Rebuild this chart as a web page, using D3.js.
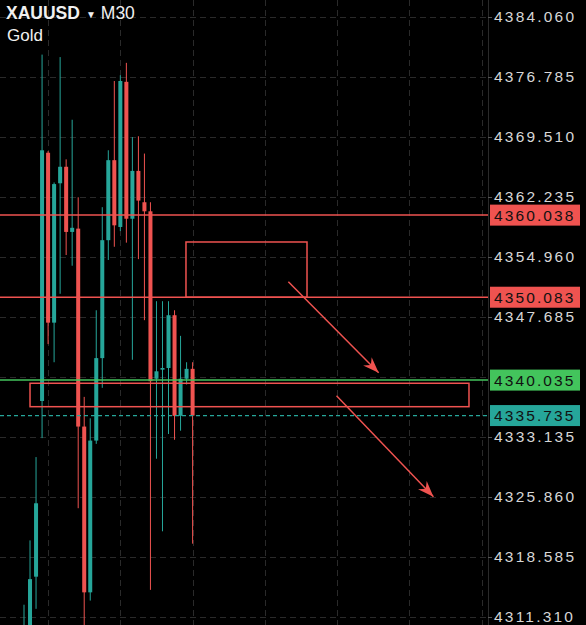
<!DOCTYPE html>
<html>
<head>
<meta charset="utf-8">
<script src="https://cdnjs.cloudflare.com/ajax/libs/d3/7.8.5/d3.min.js"></script>
<style>
  html, body { margin: 0; padding: 0; background: #000; }
  svg { display: block; }
</style>
</head>
<body>
<div id="chart"></div>
<script>
(function(){

    // XAUUSD M30 candles, oldest first
    var opens  = [4303.0, 4306.0, 4316.2, 4337.5, 4367.6, 4347.0, 4363.9, 4365.9, 4358.0, 4358.4,
                  4334.4, 4314.3, 4332.7, 4342.7, 4357.0, 4366.7, 4358.6, 4376.2, 4359.6, 4365.4,
                  4361.6, 4360.5, 4340.2, 4341.3, 4341.5, 4347.9, 4335.7, 4340.2, 4341.4];
    var highs  = [4312.8, 4320.6, 4330.7, 4379.5, 4367.8, 4364.0, 4379.2, 4366.8, 4371.6, 4362.2,
                  4338.0, 4335.4, 4348.5, 4361.0, 4367.9, 4376.3, 4377.0, 4378.5, 4369.5, 4369.6,
                  4367.5, 4361.6, 4349.6, 4349.6, 4349.6, 4348.5, 4345.4, 4342.2, 4342.2];
    var lows   = [4300.0, 4303.0, 4312.3, 4333.0, 4344.4, 4342.2, 4350.5, 4355.2, 4353.9, 4324.5,
                  4308.0, 4313.3, 4332.3, 4339.1, 4354.6, 4356.2, 4358.1, 4356.7, 4342.5, 4354.7,
                  4347.3, 4314.6, 4330.5, 4321.7, 4333.5, 4332.8, 4333.9, 4339.5, 4320.2];
    var closes = [4308.0, 4315.9, 4325.1, 4367.9, 4347.0, 4363.8, 4365.9, 4358.0, 4358.5, 4334.4,
                  4314.3, 4332.7, 4342.7, 4357.0, 4366.7, 4358.8, 4376.3, 4359.6, 4365.4, 4361.8,
                  4360.5, 4339.9, 4341.1, 4341.5, 4347.9, 4335.7, 4340.2, 4341.4, 4335.74];

    // price grid, and the tick labels that stay visible (4340.410 sits under the ask tag)
    var gridValues = [4384.060, 4376.785, 4369.510, 4362.235, 4354.960, 4347.685,
                      4340.410, 4333.135, 4325.860, 4318.585, 4311.310];
    var tickValues = [4384.060, 4376.785, 4369.510, 4362.235, 4354.960, 4347.685,
                      4333.135, 4325.860, 4318.585, 4311.310];
    // bars where the vertical grid falls (every 12 bars)
    var gridBars = [4, 16, 28, 40, 52, 64, 76];

    // horizontal price lines
    var levelPrices = [4360.038, 4350.083, 4340.035, 4335.735];
    var levelKinds  = ["resist", "resist", "ask", "bid"];

    // drawn zones (bar index / price)
    var zoneX0 = [26.9, 1.0];
    var zoneX1 = [47.0, 73.9];
    var zoneTop = [4356.78, 4339.65];
    var zoneBottom = [4350.083, 4336.81];

    // drawn arrows
    var arrowX0 = [43.9, 51.9];
    var arrowP0 = [4351.97, 4338.14];
    var arrowX1 = [58.9, 68.0];
    var arrowP1 = [4340.93, 4325.90];

    var width = 586, height = 625;
    var plotRight = 488;
    var up = "#26a69a", down = "#ef5350", green = "#43c45c";
    var kindColor = {resist: down, ask: green, bid: up};
    var labelFont = "Liberation Sans, Arial, sans-serif";

    var svg = d3.select("#chart").append("svg")
        .attr("width", width)
        .attr("height", height);

    svg.append("rect").attr("width", width).attr("height", height).attr("fill", "#000");

    var x = d3.scaleLinear().domain([0, 28]).range([24, 192.6]);
    var y = d3.scaleLinear().domain([4311.31, 4384.06]).range([617, 17]);

    svg.append("clipPath").attr("id", "plot")
        .append("rect").attr("width", plotRight).attr("height", height);

    var plot = svg.append("g").attr("clip-path", "url(#plot)");

    //grid
    plot.append("g")
        .call(d3.axisRight(y).tickValues(gridValues).tickSize(plotRight).tickFormat(""))
        .call(function(g){
            g.select(".domain").remove();
            g.selectAll("line").attr("stroke", "#2a2a2a").attr("stroke-dasharray", "6,4");
        });

    plot.append("g")
        .selectAll("line")
        .data(gridBars).enter().append("line")
        .attr("x1", function(d){ return Math.round(x(d)) + 0.5; })
        .attr("x2", function(d){ return Math.round(x(d)) + 0.5; })
        .attr("y1", 0).attr("y2", height)
        .attr("stroke", "#2a2a2a")
        .attr("stroke-dasharray", "6,4");

    //candles
    var idx = d3.range(opens.length);
    var candles = plot.append("g").selectAll("g")
        .data(idx).enter().append("g")
        .attr("fill", function(i){ return closes[i] >= opens[i] ? up : down; })
        .attr("stroke", function(i){ return closes[i] >= opens[i] ? up : down; });

    candles.append("line")
        .attr("x1", function(i){ return x(i); })
        .attr("x2", function(i){ return x(i); })
        .attr("y1", function(i){ return y(highs[i]); })
        .attr("y2", function(i){ return y(lows[i]); })
        .attr("stroke-width", 1);

    candles.append("rect")
        .attr("x", function(i){ return x(i) - 2; })
        .attr("width", 4)
        .attr("y", function(i){ return y(Math.max(opens[i], closes[i])); })
        .attr("height", function(i){ return Math.max(1.5, Math.abs(y(opens[i]) - y(closes[i]))); })
        .attr("stroke", "none");

    //price lines
    plot.append("g").selectAll("line")
        .data(d3.range(levelPrices.length)).enter().append("line")
        .attr("x1", 0).attr("x2", plotRight)
        .attr("y1", function(i){ return y(levelPrices[i]); })
        .attr("y2", function(i){ return y(levelPrices[i]); })
        .attr("stroke", function(i){ return kindColor[levelKinds[i]]; })
        .attr("stroke-width", function(i){ return levelKinds[i] === "bid" ? 1.2 : 1.5; })
        .attr("stroke-dasharray", function(i){ return levelKinds[i] === "bid" ? "4,3" : null; });

    //zones
    plot.append("g").selectAll("rect")
        .data(d3.range(zoneX0.length)).enter().append("rect")
        .attr("x", function(i){ return x(zoneX0[i]); })
        .attr("width", function(i){ return x(zoneX1[i]) - x(zoneX0[i]); })
        .attr("y", function(i){ return y(zoneTop[i]); })
        .attr("height", function(i){ return y(zoneBottom[i]) - y(zoneTop[i]); })
        .attr("fill", "none")
        .attr("stroke", down)
        .attr("stroke-width", 1.5);

    //arrows
    var arrows = plot.append("g").selectAll("g")
        .data(d3.range(arrowX0.length)).enter().append("g");

    arrows.append("line")
        .attr("x1", function(i){ return x(arrowX0[i]); })
        .attr("y1", function(i){ return y(arrowP0[i]); })
        .attr("x2", function(i){ return x(arrowX1[i]); })
        .attr("y2", function(i){ return y(arrowP1[i]); })
        .attr("stroke", down)
        .attr("stroke-width", 1.5);

    arrows.append("path")
        .attr("fill", down)
        .attr("d", function(i){
            var x0 = x(arrowX0[i]), y0 = y(arrowP0[i]);
            var x1 = x(arrowX1[i]), y1 = y(arrowP1[i]);
            var a = Math.atan2(y1 - y0, x1 - x0);
            var len = 16, half = 6, notch = 11;
            function pt(l, s){
                return [x1 - l * Math.cos(a) - s * Math.sin(a), y1 - l * Math.sin(a) + s * Math.cos(a)];
            }
            var p1 = pt(len, half), p2 = pt(notch, 0), p3 = pt(len, -half);
            return "M" + x1 + "," + y1 + "L" + p1 + "L" + p2 + "L" + p3 + "Z";
        });

    //price axis
    svg.append("line")
        .attr("x1", plotRight + 0.5).attr("x2", plotRight + 0.5)
        .attr("y1", 0).attr("y2", height)
        .attr("stroke", "#2a2a2a");

    var axis = svg.append("g")
        .attr("transform", "translate(" + plotRight + ",0)")
        .call(d3.axisRight(y).tickValues(tickValues).tickSize(4).tickPadding(2).tickFormat(d3.format(".3f")));
    axis.select(".domain").remove();
    axis.selectAll("line").attr("stroke", "#555");
    axis.selectAll("text")
        .attr("fill", "#d6d6d6")
        .attr("font-family", labelFont)
        .attr("font-size", "15.5px")
        .attr("letter-spacing", "2.2px");

    var tags = svg.append("g").selectAll("g")
        .data(d3.range(levelPrices.length)).enter().append("g")
        .attr("transform", function(i){ return "translate(" + (plotRight + 2) + "," + y(levelPrices[i]) + ")"; });

    tags.append("rect")
        .attr("x", 0).attr("y", -10.5)
        .attr("width", 90).attr("height", 21)
        .attr("fill", function(i){ return kindColor[levelKinds[i]]; });

    tags.append("text")
        .attr("x", 4).attr("dy", "0.36em")
        .attr("fill", "#111")
        .attr("font-family", labelFont)
        .attr("font-size", "15.5px")
        .attr("letter-spacing", "2.1px")
        .text(function(i){ return d3.format(".3f")(levelPrices[i]); });

    //title
    var title = svg.append("text")
        .attr("x", 6).attr("y", 19)
        .attr("fill", "#f0f0f0")
        .attr("font-family", labelFont)
        .attr("font-size", "17.5px");
    title.append("tspan").attr("font-weight", "bold").text("XAUUSD");
    title.append("tspan").attr("font-size", "10px").attr("dx", 6).attr("dy", -1).text("▼");
    title.append("tspan").attr("dx", 5).attr("dy", 1).text("M30");

    svg.append("text")
        .attr("x", 7).attr("y", 41)
        .attr("fill", "#f0f0f0")
        .attr("font-family", labelFont)
        .attr("font-size", "17px")
        .text("Gold");

})();
</script>
</body>
</html>
